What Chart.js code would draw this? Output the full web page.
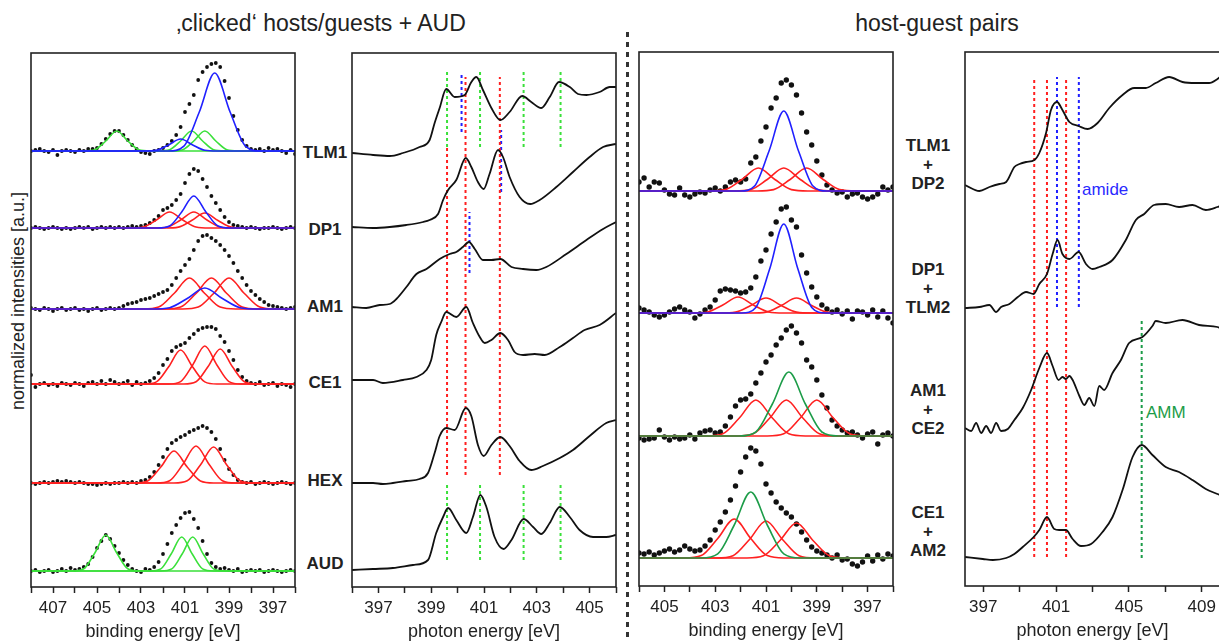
<!DOCTYPE html>
<html>
<head>
<meta charset="utf-8">
<script src="https://cdn.jsdelivr.net/npm/chart.js@4.4.1/dist/chart.umd.min.js"></script>
<style>
  html, body { margin: 0; padding: 0; overflow: hidden; background: #fff; }
  body { width: 1219px; height: 641px; position: relative; font-family: "Liberation Sans", Arial, sans-serif; color: #222; }
  canvas { position: absolute; }
  .title { position: absolute; top: 12px; font-size: 23px; line-height: 23px; white-space: nowrap; transform: translateX(-50%); }
  .lbl { position: absolute; font-weight: bold; font-size: 17px; line-height: 19px; text-align: center; white-space: nowrap; transform: translate(-50%, -50%); }
  .ytitle { position: absolute; left: 18px; top: 301px; font-size: 18px; white-space: nowrap; transform: translate(-50%, -50%) rotate(-90deg); }
  .note { position: absolute; font-size: 17px; line-height: 20px; transform: translateY(-50%); }
  .divider { position: absolute; left: 626px; top: 32px; width: 3px; height: 609px;
    background: repeating-linear-gradient(to bottom, #333 0 5px, transparent 5px 10px); }
</style>
</head>
<body>
<div class="title" style="left:321px">‚clicked‘ hosts/guests + AUD</div>
<div class="title" style="left:937px">host-guest pairs</div>
<div class="divider"></div>
<div class="ytitle">normalized intensities [a.u.]</div>

<div class="lbl" style="left:325px;top:152px">TLM1</div>
<div class="lbl" style="left:325px;top:229px">DP1</div>
<div class="lbl" style="left:325px;top:306px">AM1</div>
<div class="lbl" style="left:325px;top:382px">CE1</div>
<div class="lbl" style="left:325px;top:480px">HEX</div>
<div class="lbl" style="left:325px;top:563px">AUD</div>

<div class="lbl" style="left:928px;top:164px">TLM1<br>+<br>DP2</div>
<div class="lbl" style="left:928px;top:288px">DP1<br>+<br>TLM2</div>
<div class="lbl" style="left:928px;top:409px">AM1<br>+<br>CE2</div>
<div class="lbl" style="left:928px;top:531px">CE1<br>+<br>AM2</div>

<div class="note" style="left:1082px;top:190px;color:#2a2aff">amide</div>
<div class="note" style="left:1146px;top:413px;color:#1c9c48">AMM</div>

<canvas id="p1" width="274" height="596" style="left:26px;top:48px"></canvas>
<canvas id="p2" width="274" height="596" style="left:347px;top:48px"></canvas>
<canvas id="p3" width="264" height="596" style="left:634px;top:47px"></canvas>
<canvas id="p4" width="265" height="596" style="left:960px;top:47px"></canvas>

<script>
// ---------- XPS, clicked hosts/guests (binding energy, eV) ----------
const bindingGrid1 = [408.0, 407.8, 407.6, 407.4, 407.2, 407.0, 406.8, 406.6, 406.4, 406.2,
  406.0, 405.8, 405.6, 405.4, 405.2, 405.0, 404.8, 404.6, 404.4, 404.2,
  404.0, 403.8, 403.6, 403.4, 403.2, 403.0, 402.8, 402.6, 402.4, 402.2,
  402.0, 401.8, 401.6, 401.4, 401.2, 401.0, 400.8, 400.6, 400.4, 400.2,
  400.0, 399.8, 399.6, 399.4, 399.2, 399.0, 398.8, 398.6, 398.4, 398.2,
  398.0, 397.8, 397.6, 397.4, 397.2, 397.0, 396.8, 396.6, 396.4, 396.2, 396.0];

const tlm1Dots = [0.0, 0.1, 0.2, 0.0, -0.1, 0.1, -0.4, 0.0, 0.1, 0.0,
  -0.1, 0.1, 0.0, 0.2, 0.2, 0.3, 0.7, 1.2, 1.7, 2.0,
  2.0, 1.6, 1.1, 0.6, 0.2, -0.1, -0.2, -0.3, 0.0, 0.1,
  0.3, 0.6, 1.0, 1.6, 2.4, 3.9, 4.7, 5.6, 7.1, 7.9,
  8.4, 8.7, 8.8, 8.4, 7.0, 5.3, 3.5, 2.1, 1.1, 0.5,
  0.2, 0.1, 0.2, 0.0, 0.3, 0.1, 0.2, 0.0, -0.2, 0.1, -0.3];
const dp1Dots = [0.0, 0.1, 0.0, -0.1, 0.0, 0.1, 0.0, -0.1, 0.0, -0.1,
  0.0, 0.1, 0.0, 0.1, -0.1, 0.0, 0.1, 0.0, 0.1, 0.0,
  0.1, 0.0, 0.1, 0.2, 0.1, 0.2, 0.3, 0.5, 0.8, 1.2,
  1.8, 2.0, 2.3, 2.8, 3.4, 4.5, 5.4, 5.9, 5.7, 4.9,
  4.1, 3.2, 2.5, 1.8, 1.1, 0.6, 0.3, 0.2, 0.1, 0.0,
  0.1, 0.0, -0.1, 0.0, 0.0, 0.1, 0.0, -0.1, 0.0, 0.1, 0.0];
const am1Dots = [0.1, 0.0, -0.1, 0.1, 0.0, -0.2, 0.0, 0.1, -0.1, 0.0,
  0.1, -0.1, 0.0, -0.2, 0.0, 0.1, -0.1, 0.0, 0.1, 0.0,
  0.1, 0.3, 0.5, 0.6, 0.7, 0.9, 1.0, 1.1, 1.3, 1.5,
  1.7, 1.9, 2.4, 3.1, 3.8, 4.4, 5.0, 5.9, 6.8, 7.3,
  7.4, 7.1, 6.8, 6.4, 5.9, 5.3, 4.6, 3.8, 3.1, 2.4,
  1.8, 1.4, 1.0, 0.7, 0.4, 0.3, 0.2, 0.1, 0.0, 0.1, 0.2];
const ce1Dots = [0.9, -0.3, 0.0, 0.1, -0.1, 0.0, -0.2, 0.1, 0.0, -0.1,
  0.1, 0.0, -0.2, 0.1, 0.2, 0.0, 0.3, 0.0, 0.4, 0.2,
  0.0, 0.1, 0.3, -0.1, 0.2, 0.0, 0.1, 0.3, 0.6, 1.1,
  1.9, 2.5, 3.3, 3.7, 3.9, 4.1, 4.6, 5.0, 5.4, 5.6,
  5.7, 5.7, 5.5, 4.8, 4.2, 3.3, 2.4, 1.4, 0.7, 0.3,
  0.1, 0.0, 0.2, -0.1, 0.0, 0.1, -0.2, 0.0, -0.1, -0.3, 0.0];
const hexDots = [0.0, -0.1, 0.0, 0.1, 0.0, 0.1, 0.2, 0.1, 0.2, 0.1,
  0.0, 0.1, 0.0, -0.1, -0.1, -0.2, -0.1, 0.0, -0.1, 0.0,
  0.0, 0.1, 0.0, 0.1, 0.0, 0.2, 0.3, 0.6, 1.1, 1.8,
  2.6, 3.4, 4.0, 4.3, 4.6, 4.8, 5.1, 5.3, 5.5, 5.7,
  5.5, 5.1, 4.4, 3.4, 2.3, 1.4, 0.8, 0.3, 0.1, 0.0,
  0.1, -0.1, 0.0, 0.1, 0.0, -0.1, 0.0, 0.1, 0.0, -0.1, 0.0];
const audDots = [0.0, 0.1, -0.1, 0.0, 0.1, -0.1, 0.0, 0.2, 0.0, 0.3,
  0.1, 0.2, 0.4, 0.7, 1.4, 2.3, 3.0, 3.6, 3.2, 2.5,
  1.8, 1.1, 0.6, 0.2, 0.0, -0.1, 0.2, 0.1, 0.4, 0.9,
  1.7, 2.7, 3.8, 4.6, 5.3, 5.8, 5.9, 5.2, 4.3, 3.0,
  1.7, 0.8, 0.4, 0.2, 0.3, 0.1, 0.0, 0.2, -0.1, 0.0,
  0.1, 0.0, 0.1, -0.1, 0.0, 0.1, 0.0, -0.1, 0.0, 0.1, 0.0];
const xpsOffsets1 = [43.6, 35.9, 27.8, 20.3, 10.4, 1.6];

// fitted components, [binding energy, intensity]
const tlm1Green = [
  [[408, 0], [405.6, 0], [405.1, 0.12], [404.6, 1.0], [404.1, 2.0], [403.6, 1.0], [403.1, 0.12], [402.6, 0], [396, 0]],
  [[408, 0], [402.2, 0], [401.7, 0.12], [401.2, 1.0], [400.7, 2.0], [400.2, 1.0], [399.7, 0.12], [399.2, 0], [396, 0]],
  [[408, 0], [401.6, 0], [401.1, 0.12], [400.6, 1.0], [400.1, 2.0], [399.6, 1.0], [399.1, 0.12], [398.6, 0], [396, 0]]
];
const tlm1Blue = [
  [[408, 0], [402.85, 0], [402.3, 0.07], [401.75, 0.6], [401.2, 1.2], [400.65, 0.6], [400.1, 0.07], [399.55, 0], [396, 0]],
  [[408, 0], [401.75, 0], [401.05, 0.49], [400.35, 3.9], [399.65, 7.8], [398.95, 3.9], [398.25, 0.49], [397.55, 0], [396, 0]]
];
const dp1Red = [
  [[408, 0], [403.5, 0], [402.9, 0.1], [402.3, 0.8], [401.7, 1.6], [401.1, 0.8], [400.5, 0.1], [399.9, 0], [396, 0]],
  [[408, 0], [402.4, 0], [401.8, 0.1], [401.2, 0.8], [400.6, 1.6], [400.0, 0.8], [399.4, 0.1], [398.8, 0], [396, 0]],
  [[408, 0], [401.9, 0], [401.3, 0.09], [400.7, 0.75], [400.1, 1.5], [399.5, 0.75], [398.9, 0.09], [398.3, 0], [396, 0]]
];
const dp1Blue = [
  [[408, 0], [402.25, 0], [401.7, 0.2], [401.15, 1.6], [400.6, 3.2], [400.05, 1.6], [399.5, 0.2], [398.95, 0], [396, 0]]
];
const am1Red = [
  [[408, 0], [402.9, 0], [402.2, 0.19], [401.5, 1.55], [400.8, 3.1], [400.1, 1.55], [399.4, 0.19], [398.7, 0], [396, 0]],
  [[408, 0], [401.9, 0], [401.2, 0.19], [400.5, 1.55], [399.8, 3.1], [399.1, 1.55], [398.4, 0.19], [397.7, 0], [396, 0]],
  [[408, 0], [401.1, 0], [400.4, 0.19], [399.7, 1.55], [399.0, 3.1], [398.3, 1.55], [397.6, 0.19], [396.9, 0], [396, 0]]
];
const am1Blue = [
  [[408, 0], [402.5, 0], [401.7, 0.13], [400.9, 1.05], [400.1, 2.1], [399.3, 1.05], [398.5, 0.13], [397.7, 0], [396, 0]]
];
const ce1Red = [
  [[408, 0], [402.85, 0], [402.3, 0.21], [401.75, 1.7], [401.2, 3.4], [400.65, 1.7], [400.1, 0.21], [399.55, 0], [396, 0]],
  [[408, 0], [401.75, 0], [401.2, 0.24], [400.65, 1.9], [400.1, 3.8], [399.55, 1.9], [399.0, 0.24], [398.45, 0], [396, 0]],
  [[408, 0], [401.05, 0], [400.5, 0.22], [399.95, 1.75], [399.4, 3.5], [398.85, 1.75], [398.3, 0.22], [397.75, 0], [396, 0]]
];
const hexRed = [
  [[408, 0], [403.3, 0], [402.7, 0.2], [402.1, 1.6], [401.5, 3.2], [400.9, 1.6], [400.3, 0.2], [399.7, 0], [396, 0]],
  [[408, 0], [402.3, 0], [401.7, 0.23], [401.1, 1.85], [400.5, 3.7], [399.9, 1.85], [399.3, 0.23], [398.7, 0], [396, 0]],
  [[408, 0], [401.5, 0], [400.9, 0.22], [400.3, 1.8], [399.7, 3.6], [399.1, 1.8], [398.5, 0.22], [397.9, 0], [396, 0]]
];
const audGreen = [
  [[408, 0], [406.1, 0], [405.6, 0.22], [405.1, 1.8], [404.6, 3.6], [404.1, 1.8], [403.6, 0.22], [403.1, 0], [396, 0]],
  [[408, 0], [402.6, 0], [402.1, 0.21], [401.63, 1.7], [401.15, 3.4], [400.67, 1.7], [400.2, 0.21], [399.7, 0], [396, 0]],
  [[408, 0], [402.1, 0], [401.6, 0.21], [401.13, 1.7], [400.65, 3.4], [400.17, 1.7], [399.7, 0.21], [399.2, 0], [396, 0]]
];

// ---------- NEXAFS, clicked hosts/guests (photon energy, eV) ----------
const nexTlm1E = [396.0, 396.8, 397.43, 397.93, 398.56, 398.94, 399.13, 399.32, 399.57, 399.89, 400.27, 400.52, 400.71, 400.96,
  401.28, 401.62, 401.97, 402.45, 402.79, 403.17, 403.49, 403.84, 404.25, 404.56, 404.88, 405.38, 405.76, 406.0];
const nexTlm1I = [0, -0.2, -0.3, 0, 0.6, 1.3, 3.0, 4.5, 6.4, 5.6, 5.8, 7.1, 7.6, 6.3,
  4.5, 3.3, 4.1, 5.7, 5.1, 4.5, 5.6, 7.1, 6.6, 5.9, 5.8, 6.1, 6.6, 6.6];
const nexDp1E = [396.0, 396.8, 397.43, 398.06, 398.69, 398.94, 399.26, 399.45, 399.64, 399.95, 400.31, 400.52, 400.77,
  400.99, 401.21, 401.53, 401.72, 401.97, 402.35, 402.75, 403.11, 403.74, 404.37, 405.0, 405.51, 406.0];
const nexDp1I = [0, -0.1, 0, 0.2, 0.5, 0.7, 1.3, 2.7, 3.7, 4.7, 6.9, 6.0, 4.5,
  3.8, 5.3, 7.7, 7.0, 5.0, 3.0, 2.3, 2.7, 4.0, 5.5, 7.0, 8.0, 8.3];
const nexAm1E = [396.0, 396.54, 397.05, 397.43, 397.68, 398.06, 398.44, 398.82, 399.32, 399.7, 399.95, 400.2, 400.43,
  400.65, 400.96, 401.28, 401.62, 402.04, 402.48, 402.98, 403.36, 404.12, 404.88, 405.51, 406.0];
const nexAm1I = [0, -0.1, 0.2, 0.3, 0.8, 2.0, 3.3, 3.8, 4.8, 5.3, 5.5, 6.0, 6.5,
  5.8, 4.7, 4.7, 4.8, 4.0, 3.8, 3.7, 4.0, 5.3, 6.7, 7.8, 8.5];
const nexCe1E = [396.0, 396.8, 397.17, 397.93, 398.44, 398.82, 399.0, 399.19, 399.38, 399.57, 399.95, 400.33, 400.58,
  400.84, 401.03, 401.28, 401.62, 401.91, 402.16, 402.48, 402.92, 403.3, 403.87, 404.37, 404.81, 405.38, 406.0];
const nexCe1I = [0, 0, -0.3, 0, 0.3, 1.0, 2.0, 4.5, 5.8, 6.8, 6.3, 7.3, 5.7,
  4.3, 3.7, 4.0, 4.7, 4.0, 2.8, 2.5, 2.6, 2.5, 3.3, 4.2, 5.0, 5.5, 6.7];
const nexHexE = [396.0, 396.8, 397.17, 397.55, 398.06, 398.56, 398.88, 399.13, 399.32, 399.57, 399.89, 400.31, 400.52,
  400.77, 400.99, 401.28, 401.62, 401.97, 402.35, 402.79, 403.23, 403.87, 404.37, 405.0, 405.63, 406.0];
const nexHexI = [0, 0, -0.1, 0, 0.2, 0.4, 1.0, 3.0, 4.7, 5.5, 5.3, 7.5, 6.7,
  3.8, 2.7, 3.8, 4.6, 3.7, 2.2, 1.3, 1.7, 2.5, 3.3, 4.7, 6.0, 6.3];
const nexAudE = [396.0, 396.8, 397.55, 398.31, 398.88, 399.19, 399.45, 399.64, 399.95, 400.33, 400.58, 400.86, 401.09,
  401.4, 401.74, 402.04, 402.5, 402.86, 403.17, 403.49, 403.87, 404.25, 404.62, 405.13, 405.63, 406.0];
const nexAudI = [0, 0.1, 0.2, 0.5, 1.0, 3.7, 5.3, 6.2, 5.0, 3.7, 5.3, 7.5, 6.3,
  3.3, 2.1, 3.0, 5.1, 4.3, 3.6, 4.7, 6.3, 5.3, 4.0, 3.3, 3.3, 3.5];
const nexOffsets2 = [43.4, 36.0, 28.0, 20.7, 10.4, 1.7];

const audPeaks = [399.6, 400.85, 402.5, 403.9];
const hexPeaks = [399.6, 400.3, 401.6];
const amidePeaks2 = [400.15, 401.65, 400.45];

// ---------- XPS, host-guest pairs ----------
const bindingGrid3 = [406.0, 405.8, 405.6, 405.4, 405.2, 405.0, 404.8, 404.6, 404.4, 404.2,
  404.0, 403.8, 403.6, 403.4, 403.2, 403.0, 402.8, 402.6, 402.4, 402.2,
  402.0, 401.8, 401.6, 401.4, 401.2, 401.0, 400.8, 400.6, 400.4, 400.2,
  400.0, 399.8, 399.6, 399.4, 399.2, 399.0, 398.8, 398.6, 398.4, 398.2,
  398.0, 397.8, 397.6, 397.4, 397.2, 397.0, 396.8, 396.6, 396.4, 396.2, 396.0];
const tdDots = [0.9, 1.3, 0.4, 0.9, 0.8, 0.1, -0.3, -0.4, 0.3, -0.4,
  -0.6, -0.3, -0.1, -0.2, 0.1, 0.3, 0.0, 0.4, 0.9, 1.1,
  0.9, 1.2, 2.8, 3.4, 5.0, 6.4, 8.3, 9.3, 10.8, 11.1,
  10.6, 9.6, 7.8, 5.9, 4.6, 3.0, 1.6, 0.6, 0.1, -0.2,
  -0.1, -0.6, -0.3, -0.2, -0.6, -0.8, -0.6, -0.3, 0.4, 0.1, 0.4];
const dtDots = [0.5, 0.3, 0.1, -0.2, -0.4, -0.2, 0.1, 0.4, 0.6, 0.3,
  0.1, -0.5, -0.1, 0.3, 0.6, 1.3, 2.2, 2.4, 2.3, 2.2,
  2.0, 2.1, 2.5, 3.6, 5.2, 6.3, 7.9, 9.1, 10.4, 10.6,
  9.3, 8.6, 5.8, 4.0, 2.6, 1.6, 0.8, 0.4, 0.1, 0.3,
  -0.1, 0.2, -0.6, 0.2, 0.1, -0.2, 0.3, -0.4, 0.2, -0.5, -1.0];
const acDots = [-0.2, -0.4, -0.3, -0.2, 0.6, -0.1, -0.4, -0.1, -0.3, -0.2,
  0.1, -0.3, 0.3, 0.5, 0.6, 0.3, 0.4, 1.0, 1.9, 3.0,
  3.6, 3.7, 4.2, 5.3, 6.3, 7.4, 8.1, 9.1, 9.8, 10.6,
  11.0, 10.3, 9.3, 7.6, 6.9, 5.6, 4.1, 2.8, 1.6, 1.0,
  0.6, 0.3, 0.4, 0.1, -0.2, 0.2, 0.4, -0.8, 0.1, 0.3, 0.0];
const caDots = [0.5, 0.4, 0.6, 0.3, 0.5, 0.7, 0.9, 0.6, 0.8, 1.2,
  0.9, 0.7, 0.8, 1.2, 1.8, 2.8, 3.6, 4.6, 5.8, 7.2,
  8.6, 10.1, 11.0, 10.7, 9.4, 7.4, 6.5, 5.6, 5.0, 4.5,
  4.1, 3.4, 2.6, 1.8, 1.1, 0.7, 0.5, 0.3, 0.0, 0.3,
  -0.2, -0.1, -0.6, -0.8, -0.4, 0.2, -0.3, 0.3, -0.1, 0.4, 0.2];
const xpsOffsets3 = [39.5, 27.3, 15.0, 2.8];

const tdRed = [
  [[406, 0], [403.25, 0], [402.6, 0.14], [401.95, 1.15], [401.3, 2.3], [400.65, 1.15], [400.0, 0.14], [399.35, 0], [396, 0]],
  [[406, 0], [402.25, 0], [401.6, 0.14], [400.95, 1.15], [400.3, 2.3], [399.65, 1.15], [399.0, 0.14], [398.35, 0], [396, 0]],
  [[406, 0], [401.35, 0], [400.7, 0.14], [400.05, 1.15], [399.4, 2.3], [398.75, 1.15], [398.1, 0.14], [397.45, 0], [396, 0]]
];
const tdBlue = [
  [[406, 0], [402.0, 0], [401.45, 0.5], [400.88, 4.0], [400.3, 8.0], [399.72, 4.0], [399.15, 0.5], [398.6, 0], [396, 0]]
];
const dtRed = [
  [[406, 0], [403.9, 0], [403.3, 0.1], [402.7, 0.8], [402.1, 1.6], [401.5, 0.8], [400.9, 0.1], [400.3, 0], [396, 0]],
  [[406, 0], [402.8, 0], [402.2, 0.09], [401.6, 0.75], [401.0, 1.5], [400.4, 0.75], [399.8, 0.09], [399.2, 0], [396, 0]],
  [[406, 0], [401.6, 0], [401.0, 0.09], [400.4, 0.75], [399.8, 1.5], [399.2, 0.75], [398.6, 0.09], [398.0, 0], [396, 0]]
];
const dtBlue = [
  [[406, 0], [401.95, 0], [401.4, 0.56], [400.85, 4.45], [400.3, 8.9], [399.75, 4.45], [399.2, 0.56], [398.65, 0], [396, 0]]
];
const acRed = [
  [[406, 0], [403.35, 0], [402.7, 0.22], [402.05, 1.8], [401.4, 3.6], [400.75, 1.8], [400.1, 0.22], [399.45, 0], [396, 0]],
  [[406, 0], [402.15, 0], [401.5, 0.22], [400.85, 1.8], [400.2, 3.6], [399.55, 1.8], [398.9, 0.22], [398.25, 0], [396, 0]],
  [[406, 0], [400.95, 0], [400.3, 0.22], [399.65, 1.8], [399.0, 3.6], [398.35, 1.8], [397.7, 0.22], [397.05, 0], [396, 0]]
];
const acGreen = [
  [[406, 0], [402.05, 0], [401.4, 0.4], [400.75, 3.2], [400.1, 6.4], [399.45, 3.2], [398.8, 0.4], [398.15, 0], [396, 0]]
];
const caRed = [
  [[406, 0], [404.2, 0], [403.55, 0.24], [402.9, 1.95], [402.25, 3.9], [401.6, 1.95], [400.95, 0.24], [400.3, 0], [396, 0]],
  [[406, 0], [402.95, 0], [402.3, 0.23], [401.65, 1.85], [401.0, 3.7], [400.35, 1.85], [399.7, 0.23], [399.05, 0], [396, 0]],
  [[406, 0], [401.75, 0], [401.1, 0.22], [400.45, 1.75], [399.8, 3.5], [399.15, 1.75], [398.5, 0.22], [397.85, 0], [396, 0]]
];
const caGreen = [
  [[406, 0], [403.55, 0], [402.9, 0.41], [402.25, 3.3], [401.6, 6.6], [400.95, 3.3], [400.3, 0.41], [399.65, 0], [396, 0]]
];

// ---------- NEXAFS, host-guest pairs ----------
const pairTdE = [396.0, 396.79, 397.34, 397.89, 398.26, 398.71, 398.99, 399.35, 399.81, 400.08, 400.45, 400.72, 401.05, 401.35,
  401.73, 402.24, 402.73, 403.28, 403.92, 404.65, 405.29, 405.93, 406.47, 407.21, 407.94, 408.67, 409.4, 409.86, 410.0];
const pairTdI = [0, -0.6, -0.2, 0.1, 0.3, 1.8, 2.1, 2.3, 2.5, 3.2, 5.2, 7.5, 8.3, 7.5,
  6.3, 5.9, 5.6, 6.2, 7.7, 9.0, 9.7, 9.7, 10.2, 10.8, 10.3, 10.2, 10.2, 10.6, 10.8];
const pairDtE = [396.0, 396.79, 397.34, 397.71, 397.98, 398.44, 398.9, 399.35, 399.77, 400.08, 400.5, 400.81, 401.08, 401.35,
  401.73, 402.24, 402.64, 403.01, 403.37, 404.1, 404.83, 405.38, 405.84, 406.38, 407.02, 407.75, 408.49, 409.22, 409.86, 410.0];
const pairDtI = [0, 0.1, 0.3, -0.4, 0.1, 0.4, 1.1, 1.6, 1.4, 2.4, 3.4, 5.4, 6.8, 5.4,
  4.9, 5.6, 4.4, 3.9, 4.1, 4.8, 6.8, 8.8, 9.4, 10.3, 10.4, 10.1, 10.3, 9.8, 10.1, 10.2];
const pairAcE = [396.0, 396.34, 396.61, 396.89, 397.16, 397.43, 397.71, 397.98, 398.35, 398.71, 399.17, 399.63, 400.08,
  400.5, 400.81, 401.14, 401.35, 401.54, 401.73, 401.91, 402.28, 402.55, 402.82, 403.1, 403.37, 403.64, 404.1, 404.56,
  405.01, 405.74, 406.29, 406.47, 407.02, 407.94, 408.85, 409.86, 410.0];
const pairAcI = [0, -0.3, 0.5, -0.5, 0.2, -0.5, 0.5, -0.3, -0.1, 0.8, 2.0, 3.8, 6.0,
  7.5, 6.2, 4.8, 5.1, 4.9, 5.2, 4.8, 3.2, 2.3, 3.0, 2.2, 4.2, 3.8, 5.5, 6.8,
  8.5, 9.1, 10.2, 10.7, 10.5, 10.8, 10.3, 10.1, 10.0];
const pairCaE = [396.0, 396.98, 397.53, 398.26, 398.71, 399.17, 399.77, 400.08, 400.5, 400.9, 401.17, 401.54, 401.91,
  402.37, 402.92, 403.55, 404.1, 404.65, 405.2, 405.71, 406.29, 407.02, 407.75, 408.49, 409.22, 409.86, 410.0];
const pairCaI = [0, -0.2, -0.3, -0.1, 0.3, 1.0, 2.0, 2.7, 4.0, 2.8, 2.7, 2.7, 1.8,
  1.1, 1.3, 2.5, 4.0, 6.7, 10.0, 11.2, 10.2, 9.0, 8.5, 7.7, 6.8, 6.3, 6.2];
const nexOffsets4 = [40.1, 27.8, 15.8, 2.9];

const pairRedPeaks = [399.8, 400.5, 401.55];
const pairAmidePeaks = [401.05, 402.25];
const ammPeak = 405.7;

// ---------- tick labels ----------
const ticksEvery1 = [396, 397, 398, 399, 400, 401, 402, 403, 404, 405, 406];
const ticksWide1 = [396, 397, 398, 399, 400, 401, 402, 403, 404, 405, 406, 407, 408];
const labelsOdd = [397, 399, 401, 403, 405, 407];
const ticksPanel4 = [397, 399, 401, 403, 405, 407, 409];
const labelsPanel4 = [397, 401, 405, 409];

// ---------- drawing ----------
const RED = '#ff2020';
const BLUE = '#2020ff';
const LIME = '#3ae03a';
const DKGREEN = '#1c9c48';

Chart.defaults.font.family = '"Liberation Sans", Arial, sans-serif';
Chart.defaults.color = '#222';

const framePlugin = {
  id: 'frame',
  afterDatasetsDraw(chart) {
    const a = chart.chartArea, c = chart.ctx;
    c.save();
    c.strokeStyle = '#222';
    c.lineWidth = 1.6;
    c.strokeRect(a.left, a.top, a.right - a.left, a.bottom - a.top);
    c.restore();
  }
};

function dots(es, vals, off, r) {
  return { data: es.map((e, i) => ({ x: e, y: vals[i] + off })), showLine: false,
    pointRadius: r, pointBackgroundColor: '#111', pointBorderWidth: 0, order: 7 };
}
function trace(es, vals, off) {
  return { data: es.map((e, i) => ({ x: e, y: vals[i] + off })), showLine: true,
    borderColor: '#111', borderWidth: 1.8, pointRadius: 0, cubicInterpolationMode: 'monotone', order: 2 };
}
function fits(list, off, color, order) {
  return list.map(pts => ({ data: pts.map(p => ({ x: p[0], y: p[1] + off })), showLine: true,
    borderColor: color, borderWidth: 1.6, pointRadius: 0, cubicInterpolationMode: 'monotone', order: order }));
}
function mark(e, y0, y1, color) {
  return { data: [{ x: e, y: y0 }, { x: e, y: y1 }], showLine: true, borderColor: color,
    borderWidth: 2, borderDash: [3, 3], pointRadius: 0, order: 9 };
}

function makePanel(id, cfg) {
  new Chart(document.getElementById(id), {
    type: 'scatter',
    data: { datasets: cfg.datasets },
    options: {
      responsive: false,
      animation: false,
      devicePixelRatio: 1,
      layout: { padding: { left: 5, right: 5, top: 5, bottom: 0 } },
      plugins: { legend: { display: false }, tooltip: { enabled: false } },
      scales: {
        x: {
          type: 'linear', min: cfg.min, max: cfg.max, reverse: cfg.reverse,
          afterBuildTicks: s => { s.ticks = cfg.ticks.map(v => ({ value: v })); },
          afterFit: s => { s.height = 57; s.paddingLeft = 0; s.paddingRight = 0; },
          ticks: {
            autoSkip: false, maxRotation: 0, minRotation: 0, padding: 5,
            font: { size: 17 }, color: '#222',
            callback: v => cfg.labels.includes(v) ? String(v) : ''
          },
          grid: { drawOnChartArea: false, drawTicks: true, tickLength: 6, tickColor: '#222', tickWidth: 1.5 },
          border: { display: false },
          title: { display: true, text: cfg.title, font: { size: 18 }, color: '#222', padding: { top: 0, bottom: 1 } }
        },
        y: { display: false, min: 0, max: 53.4 }
      }
    },
    plugins: [framePlugin]
  });
}

// panel 1
const o1 = xpsOffsets1;
const ds1 = [
  dots(bindingGrid1, tlm1Dots, o1[0], 1.9), dots(bindingGrid1, dp1Dots, o1[1], 1.9), dots(bindingGrid1, am1Dots, o1[2], 1.9),
  dots(bindingGrid1, ce1Dots, o1[3], 1.9), dots(bindingGrid1, hexDots, o1[4], 1.9), dots(bindingGrid1, audDots, o1[5], 1.9),
  ...fits(tlm1Green, o1[0], LIME, 4), ...fits(tlm1Blue, o1[0], BLUE, 3),
  ...fits(dp1Red, o1[1], RED, 5), ...fits(dp1Blue, o1[1], BLUE, 3),
  ...fits(am1Red, o1[2], RED, 5), ...fits(am1Blue, o1[2], BLUE, 3),
  ...fits(ce1Red, o1[3], RED, 5),
  ...fits(hexRed, o1[4], RED, 5),
  ...fits(audGreen, o1[5], LIME, 4)
];
makePanel('p1', { min: 396, max: 408, reverse: true, ticks: ticksWide1, labels: labelsOdd,
  title: 'binding energy [eV]', datasets: ds1 });

// panel 2
const o2 = nexOffsets2;
const ds2 = [
  trace(nexTlm1E, nexTlm1I, o2[0]), trace(nexDp1E, nexDp1I, o2[1]), trace(nexAm1E, nexAm1I, o2[2]),
  trace(nexCe1E, nexCe1I, o2[3]), trace(nexHexE, nexHexI, o2[4]), trace(nexAudE, nexAudI, o2[5]),
  ...audPeaks.map(e => mark(e, 44.0, 51.7, LIME)),
  ...audPeaks.map(e => mark(e, 2.7, 10.4, LIME)),
  mark(hexPeaks[0], 11.2, 44.0, RED),
  mark(hexPeaks[1], 11.2, 51.0, RED),
  mark(hexPeaks[2], 11.2, 51.0, RED),
  mark(amidePeaks2[0], 45.5, 51.5, BLUE),
  mark(amidePeaks2[1], 39.5, 45.7, BLUE),
  mark(amidePeaks2[2], 31.4, 37.5, BLUE)
];
makePanel('p2', { min: 396, max: 406, reverse: false, ticks: ticksEvery1, labels: labelsOdd,
  title: 'photon energy [eV]', datasets: ds2 });

// panel 3
const o3 = xpsOffsets3;
const ds3 = [
  dots(bindingGrid3, tdDots, o3[0], 2.7), dots(bindingGrid3, dtDots, o3[1], 2.7),
  dots(bindingGrid3, acDots, o3[2], 2.7), dots(bindingGrid3, caDots, o3[3], 2.7),
  ...fits(tdRed, o3[0], RED, 5), ...fits(tdBlue, o3[0], BLUE, 3),
  ...fits(dtRed, o3[1], RED, 5), ...fits(dtBlue, o3[1], BLUE, 3),
  ...fits(acRed, o3[2], RED, 5), ...fits(acGreen, o3[2], DKGREEN, 4),
  ...fits(caRed, o3[3], RED, 5), ...fits(caGreen, o3[3], DKGREEN, 4)
];
makePanel('p3', { min: 396, max: 406, reverse: true, ticks: ticksEvery1, labels: labelsOdd,
  title: 'binding energy [eV]', datasets: ds3 });

// panel 4
const o4 = nexOffsets4;
const ds4 = [
  trace(pairTdE, pairTdI, o4[0]), trace(pairDtE, pairDtI, o4[1]),
  trace(pairAcE, pairAcI, o4[2]), trace(pairCaE, pairCaI, o4[3]),
  ...pairRedPeaks.map(e => mark(e, 2.9, 50.9, RED)),
  ...pairAmidePeaks.map(e => mark(e, 27.9, 50.9, BLUE)),
  mark(ammPeak, 2.8, 26.6, DKGREEN)
];
makePanel('p4', { min: 396, max: 410, reverse: false, ticks: ticksPanel4, labels: labelsPanel4,
  title: 'photon energy [eV]', datasets: ds4 });
</script>
</body>
</html>
